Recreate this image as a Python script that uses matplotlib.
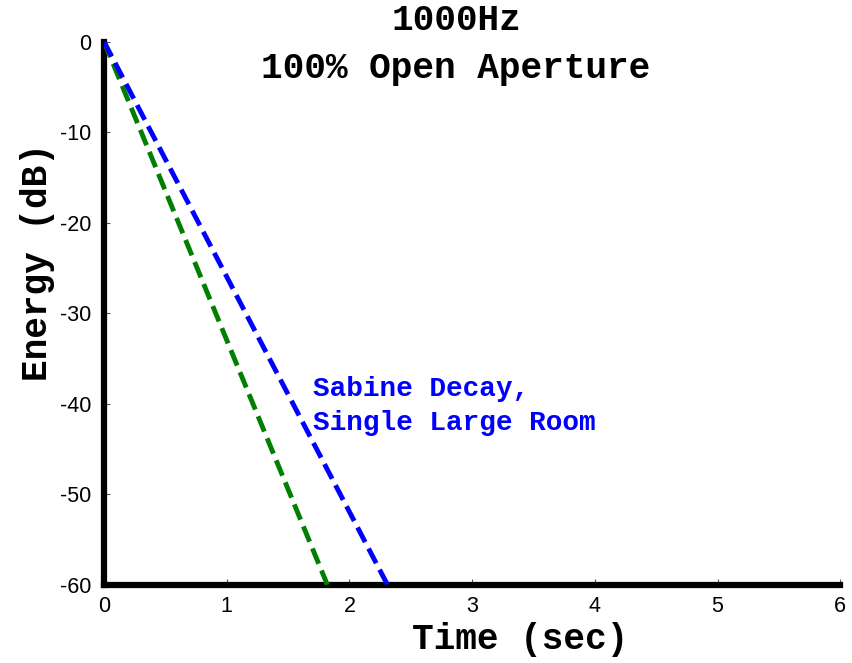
import matplotlib
matplotlib.use("Agg")
import matplotlib.pyplot as plt

plt.rcParams['axes.unicode_minus'] = False

# decay lines: time (sec) vs energy (dB)
sabine_t = [0.0, 2.31]
sabine_db = [0.0, -60.0]
coupled_t = [0.0, 1.82]
coupled_db = [0.0, -60.0]

x_ticks = [0, 1, 2, 3, 4, 5, 6]
y_ticks = [0, -10, -20, -30, -40, -50, -60]

mono = 'Liberation Mono'
sans = 'Liberation Sans'

fig = plt.figure(figsize=(8.53, 6.63), dpi=100)
ax = fig.add_axes([0.122, 0.118, 0.863, 0.819])

dash = (0, (3.4, 1.5))
ax.plot(coupled_t, coupled_db, color='#007f00', linewidth=3.5, linestyle=dash, zorder=3)
ax.plot(sabine_t, sabine_db, color='#0000ff', linewidth=3.5, linestyle=dash, zorder=3)

ax.text(1.7, -40.2, 'Sabine Decay,\nSingle Large Room', color='#0000ff', fontsize=20,
        fontweight='bold', family=mono, va='center', ha='left', linespacing=1.4)

ax.set_xlim(0, 6)
ax.set_ylim(-60, 0)
ax.set_xticks(x_ticks)
ax.set_yticks(y_ticks)
ax.tick_params(direction='in', length=4, width=0.8, color='#555555', labelsize=15.5)
ax.tick_params(axis='x', pad=8)
ax.tick_params(axis='y', pad=9)
for lab in ax.get_xticklabels() + ax.get_yticklabels():
    lab.set_family(sans)

ax.spines['top'].set_visible(False)
ax.spines['right'].set_visible(False)
ax.spines['left'].set_linewidth(4.5)
ax.spines['bottom'].set_linewidth(4.5)

ax.set_xlabel('Time (sec)', fontsize=26, fontweight='bold', family=mono, va='center')
ax.set_ylabel('Energy (dB)', fontsize=26, fontweight='bold', family=mono, va='center')
ax.xaxis.set_label_coords((520 - 104) / 736, -0.101)
ax.yaxis.set_label_coords((37 - 104) / 736, 0.595)

fig.text(456 / 853, 1 - 44.5 / 663, '1000Hz\n100% Open Aperture', ha='center', va='center',
         fontsize=26, fontweight='bold', family=mono, linespacing=1.5)

fig.savefig('out.png', dpi=100)
